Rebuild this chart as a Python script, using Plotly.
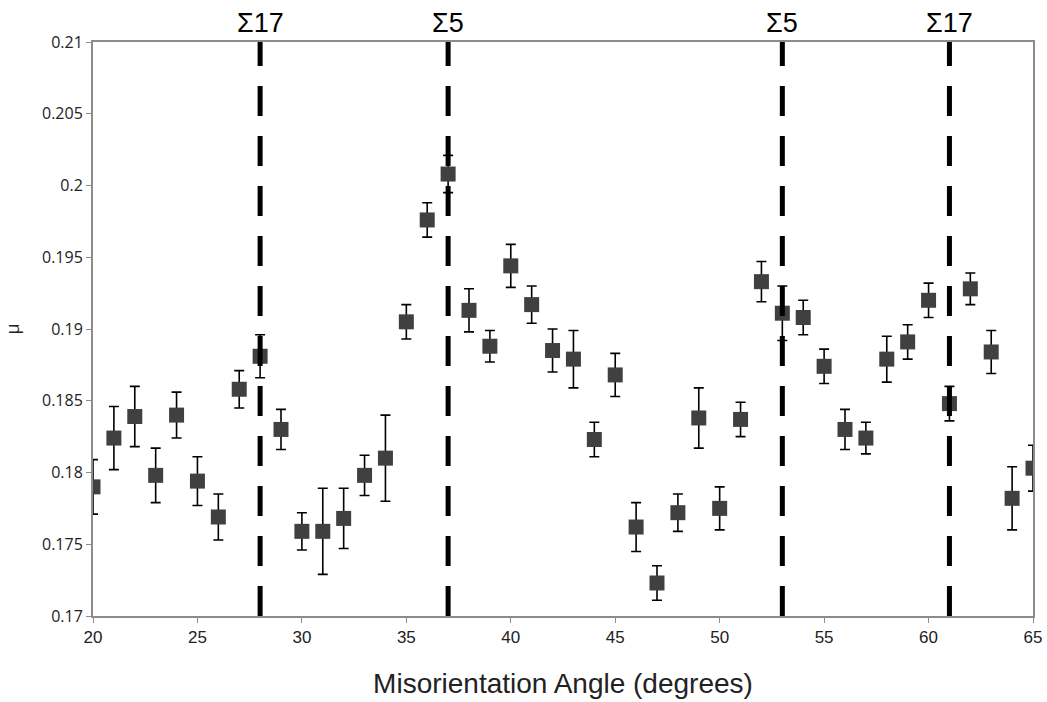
import plotly.graph_objects as go

angles = list(range(20, 66))
mu = [0.1790, 0.1824, 0.1839, 0.1798, 0.1840, 0.1794, 0.1769, 0.1858, 0.1881, 0.1830,
      0.1759, 0.1759, 0.1768, 0.1798, 0.1810, 0.1905, 0.1976, 0.2008, 0.1913, 0.1888,
      0.1944, 0.1917, 0.1885, 0.1879, 0.1823, 0.1868, 0.1762, 0.1723, 0.1772, 0.1838,
      0.1775, 0.1837, 0.1933, 0.1911, 0.1908, 0.1874, 0.1830, 0.1824, 0.1879, 0.1891,
      0.1920, 0.1848, 0.1928, 0.1884, 0.1782, 0.1803]
err = [0.0019, 0.0022, 0.0021, 0.0019, 0.0016, 0.0017, 0.0016, 0.0013, 0.0015, 0.0014,
       0.0013, 0.0030, 0.0021, 0.0014, 0.0030, 0.0012, 0.0012, 0.0013, 0.0015, 0.0011,
       0.0015, 0.0013, 0.0015, 0.0020, 0.0012, 0.0015, 0.0017, 0.0012, 0.0013, 0.0021,
       0.0015, 0.0012, 0.0014, 0.0019, 0.0012, 0.0012, 0.0014, 0.0011, 0.0016, 0.0012,
       0.0012, 0.0012, 0.0011, 0.0015, 0.0022, 0.0016]

sigma_angles = [28, 37, 53, 61]
sigma_labels = ["Σ17", "Σ5", "Σ5", "Σ17"]

x_ticks = [20, 25, 30, 35, 40, 45, 50, 55, 60, 65]
y_ticks = [0.17, 0.175, 0.18, 0.185, 0.19, 0.195, 0.2, 0.205, 0.21]
y_ticktext = ["0.17", "0.175", "0.18", "0.185", "0.19", "0.195", "0.2", "0.205", "0.21"]

fig = go.Figure()
fig.add_trace(go.Scatter(
    x=angles, y=mu, mode="markers",
    marker=dict(symbol="square", size=15, color="#404040"),
    error_y=dict(type="data", array=err, visible=True, color="black",
                 thickness=1.6, width=5),
    showlegend=False,
))

for a, lab in zip(sigma_angles, sigma_labels):
    fig.add_shape(type="line", x0=a, x1=a, y0=0, y1=1, xref="x", yref="paper",
                  line=dict(color="black", width=5, dash="30px,20px"))
    fig.add_annotation(x=a, y=1.0, xref="x", yref="paper", yshift=2,
                       text=lab, showarrow=False, yanchor="bottom",
                       font=dict(family="Liberation Sans, Arial", size=27, color="black"))

fig.update_layout(
    width=1047, height=702,
    margin=dict(l=93, r=14, t=42, b=86),
    paper_bgcolor="white", plot_bgcolor="white",
    xaxis=dict(range=[20, 65], tickvals=x_ticks, showgrid=False, zeroline=False,
               automargin=False,
               showline=True, linecolor="#8c8c8c", linewidth=2, mirror=True,
               ticks="outside", ticklen=5, tickcolor="#8c8c8c",
               tickfont=dict(family="Liberation Sans Narrow, Liberation Sans, Arial", size=17, color="#222"),
               title=dict(text="Misorientation Angle (degrees)", standoff=27,
                          font=dict(family="Liberation Sans Narrow, Liberation Sans, Arial", size=28, color="#222"))),
    yaxis=dict(range=[0.17, 0.21], tickvals=y_ticks, ticktext=y_ticktext,
               showgrid=False, zeroline=False, automargin=False,
               showline=True, linecolor="#8c8c8c", linewidth=2, mirror=True,
               ticks="outside", ticklen=5, tickcolor="#8c8c8c",
               tickfont=dict(family="Open Sans, DejaVu Sans", size=16, color="#222"),
               title=dict(text="μ", standoff=28,
                          font=dict(family="Open Sans, DejaVu Sans", size=18, color="#222"))),
)

fig.write_html("out.html", config={"displayModeBar": False},
               post_script="document.body.style.margin='0';document.body.style.overflow='hidden';")
